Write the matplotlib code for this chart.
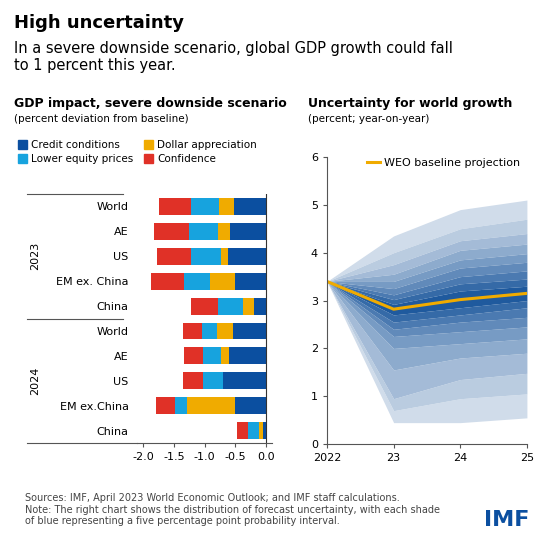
import matplotlib.pyplot as plt
import numpy as np

# bar panel data (percent deviation from baseline)
labels = ['World', 'AE', 'US', 'EM ex. China', 'China', 'World', 'AE', 'US', 'EM ex.China', 'China']
credit = [-0.52, -0.59, -0.62, -0.50, -0.20, -0.54, -0.61, -0.71, -0.50, -0.06]
dollar = [-0.24, -0.19, -0.11, -0.42, -0.175, -0.26, -0.12, 0.0, -0.78, -0.05]
equity = [-0.46, -0.48, -0.50, -0.42, -0.41, -0.25, -0.29, -0.31, -0.21, -0.18]
confidence = [-0.53, -0.56, -0.54, -0.53, -0.44, -0.31, -0.32, -0.33, -0.30, -0.18]

# fan chart data
years = [2022, 2023, 2024, 2025]
baseline = [3.4, 2.82, 3.02, 3.15]
upper = [  # outer -> inner
    [4.35, 4.9, 5.1], [4.0, 4.5, 4.7], [3.75, 4.25, 4.4], [3.55, 4.05, 4.18],
    [3.4, 3.85, 3.98], [3.25, 3.68, 3.8], [3.12, 3.5, 3.62], [3.02, 3.35, 3.45],
    [2.92, 3.2, 3.3]]
lower = [
    [0.45, 0.45, 0.55], [0.7, 0.95, 1.05], [0.95, 1.35, 1.48], [1.55, 1.8, 1.9],
    [2.0, 2.1, 2.2], [2.25, 2.35, 2.45], [2.4, 2.55, 2.65], [2.55, 2.7, 2.85],
    [2.7, 2.85, 3.0]]

c_credit, c_dollar, c_equity, c_conf = '#0b4fa0', '#f0ab00', '#17a3de', '#e03127'
gold = '#f0ab00'

fig = plt.figure(figsize=(5.57, 5.45), dpi=100)
fig.text(0.025, 0.958, 'High uncertainty', fontsize=13, fontweight='bold', va='center')
fig.text(0.025, 0.925, 'In a severe downside scenario, global GDP growth could fall\nto 1 percent this year.',
         fontsize=10.5, va='top', linespacing=1.15)
fig.text(0.025, 0.81, 'GDP impact, severe downside scenario', fontsize=9, fontweight='bold', va='center')
fig.text(0.025, 0.782, '(percent deviation from baseline)', fontsize=7.5, va='center')
fig.text(0.553, 0.81, 'Uncertainty for world growth', fontsize=9, fontweight='bold', va='center')
fig.text(0.553, 0.782, '(percent; year-on-year)', fontsize=7.5, va='center')
fig.text(0.045, 0.095, 'Sources: IMF, April 2023 World Economic Outlook; and IMF staff calculations.\n'
         'Note: The right chart shows the distribution of forecast uncertainty, with each shade\n'
         'of blue representing a five percentage point probability interval.',
         fontsize=7, color='#444444', va='top', linespacing=1.2)
fig.text(0.95, 0.045, 'IMF', fontsize=16, fontweight='bold', color='#0b4fa0', ha='right', va='center')

# left bar chart
ax = fig.add_axes([0.246, 0.187, 0.243, 0.457])
y = np.arange(len(labels))
left = np.zeros(len(labels))
for vals, col in [(credit, c_credit), (dollar, c_dollar), (equity, c_equity), (confidence, c_conf)]:
    v = np.array(vals)
    ax.barh(y, v, left=left, color=col, height=0.68)
    left = left + v
ax.set_ylim(len(labels) - 0.5, -0.5)
ax.set_xlim(-2.1, 0.1)
ax.set_xticks([-2.0, -1.5, -1.0, -0.5, 0.0])
ax.set_xticklabels(['-2.0', '-1.5', '-1.0', '-0.5', '0.0'], fontsize=8)
ax.set_yticks(y)
ax.set_yticklabels(labels, fontsize=8)
ax.tick_params(axis='y', length=0, pad=6)
ax.tick_params(axis='x', length=3, color='#555555')
ax.axvline(0, color='#333333', lw=0.8)
for s in ['top', 'right', 'left']:
    ax.spines[s].set_visible(False)
ax.spines['bottom'].set_color('#555555')
# group separators and year labels
for yy in [-0.5, 4.5]:
    ax.plot([-0.81, -0.1], [yy, yy], transform=ax.get_yaxis_transform(), color='#555555', lw=0.8, clip_on=False)
ax.plot([-0.81, 0.0], [9.5, 9.5], transform=ax.get_yaxis_transform(), color='#555555', lw=0.8, clip_on=False)
ax.text(-0.75, 2, '2023', transform=ax.get_yaxis_transform(), rotation=90, va='center', ha='center', fontsize=8)
ax.text(-0.75, 7, '2024', transform=ax.get_yaxis_transform(), rotation=90, va='center', ha='center', fontsize=8)

# legend (column-filled, so order gives rows Credit/Dollar, Equity/Confidence)
cols = [c_credit, c_equity, c_dollar, c_conf]
names = ['Credit conditions', 'Lower equity prices', 'Dollar appreciation', 'Confidence']
handles = [plt.Rectangle((0, 0), 1, 1, color=c) for c in cols]
fig.legend(handles, names, loc='upper left', bbox_to_anchor=(0.015, 0.76), ncol=2, frameon=False, fontsize=7.5,
           handlelength=0.9, handleheight=0.9, handletextpad=0.4, columnspacing=1.0, labelspacing=0.4)

# right fan chart
ax2 = fig.add_axes([0.587, 0.185, 0.359, 0.527])
n = len(upper)
cmap = plt.matplotlib.colors.LinearSegmentedColormap.from_list('b', ['#d0dcea', '#1f5a9e'])
for i in range(n):
    col = cmap(i / (n - 1))
    ax2.fill_between(years, [baseline[0]] + upper[i], [baseline[0]] + (upper[i + 1] if i < n - 1 else baseline[1:]),
                     color=col, lw=0)
    ax2.fill_between(years, [baseline[0]] + lower[i], [baseline[0]] + (lower[i + 1] if i < n - 1 else baseline[1:]),
                     color=col, lw=0)
ax2.plot(years, baseline, color=gold, lw=2.2, label='WEO baseline projection')
ax2.set_xlim(2022, 2025)
ax2.set_ylim(0, 6)
ax2.set_xticks(years)
ax2.set_xticklabels(['2022', '23', '24', '25'], fontsize=8)
ax2.set_yticks(range(7))
ax2.tick_params(axis='y', labelsize=8, length=3, color='#555555')
ax2.tick_params(axis='x', length=3, color='#555555')
for s in ['top', 'right']:
    ax2.spines[s].set_visible(False)
ax2.spines['left'].set_color('#555555')
ax2.spines['bottom'].set_color('#555555')
ax2.legend(loc='upper left', bbox_to_anchor=(0.15, 1.03), frameon=False, fontsize=8, handlelength=1.2,
           handletextpad=0.3)

fig.savefig('out.png', dpi=100)
